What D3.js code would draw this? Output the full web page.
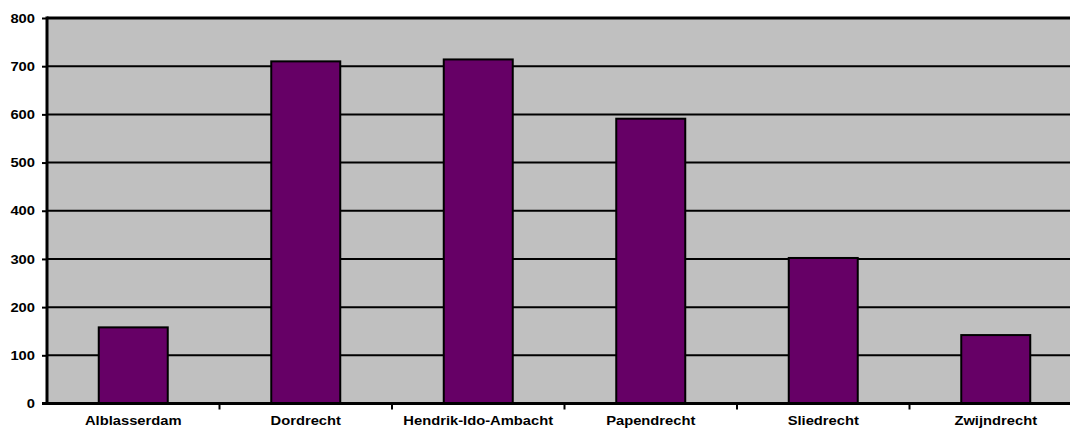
<!DOCTYPE html>
<html><head><meta charset="utf-8">
<script src="https://cdn.jsdelivr.net/npm/d3@7"></script>
<style>body{margin:0;background:#fff}svg{display:block}text{font-family:"Liberation Sans",Arial,sans-serif;font-weight:bold;fill:#000}</style>
</head><body><svg id="c" width="1070" height="428"></svg>
<script>
const categories = ["Alblasserdam","Dordrecht","Hendrik-Ido-Ambacht","Papendrecht","Sliedrecht","Zwijndrecht"];
const values = [158, 710, 714, 591, 302, 142];
const yTicks = [0,100,200,300,400,500,600,700,800];

const svg = d3.select("#c");
const mLeft = 47, mTop = 18, mBottom = 403.5, mRight = 1082;
const sx = 1.17, fs = 12.6;

const x = d3.scaleBand().domain(categories).range([mLeft, mRight]).paddingInner(0).paddingOuter(0);
const y = d3.scaleLinear().domain([0, 800]).range([mBottom, mTop]);

svg.append("rect").attr("x", mLeft).attr("y", mTop).attr("width", mRight-mLeft).attr("height", mBottom-mTop).attr("fill", "#c0c0c0");

svg.append("g").selectAll("line").data(yTicks.filter(d=>d>0)).join("line")
  .attr("x1", mLeft).attr("x2", mRight).attr("y1", d=>y(d)).attr("y2", d=>y(d))
  .attr("stroke", "#000").attr("stroke-width", d=>d===800?3:2);

const bw = x.bandwidth()*0.4;
svg.append("g").selectAll("rect").data(categories).join("rect")
  .attr("x", (d)=>x(d)+x.bandwidth()/2-bw/2)
  .attr("y", (d,i)=>y(values[i]))
  .attr("width", bw)
  .attr("height", (d,i)=>mBottom-y(values[i]))
  .attr("fill", "#660066").attr("stroke", "#000").attr("stroke-width", 2);

const ya = svg.append("g").attr("transform", `translate(${mLeft},0)`)
  .call(d3.axisLeft(y).tickValues(yTicks).tickSize(5).tickPadding(0).tickFormat(d3.format("d")));
ya.select(".domain").remove();
ya.selectAll(".tick line").attr("stroke", "#000").attr("stroke-width", 2);
ya.selectAll(".tick text").attr("x", 0).attr("dy", null).attr("dominant-baseline", "central")
  .attr("font-size", fs).attr("transform", `translate(-12,0) scale(${sx},1)`).attr("text-anchor","end");
svg.append("line").attr("x1", mLeft).attr("x2", mLeft).attr("y1", mTop-1.5).attr("y2", mBottom+1.5).attr("stroke","#000").attr("stroke-width",3);

const xa = svg.append("g").attr("transform", `translate(0,${mBottom})`)
  .call(d3.axisBottom(x).tickSize(0).tickPadding(0));
xa.select(".domain").remove();
xa.selectAll(".tick text").attr("y", 0).attr("dy", null)
  .attr("font-size", fs).attr("transform", `translate(0,21.5) scale(${sx},1)`);
svg.append("g").selectAll("line").data(categories.slice(1)).join("line")
  .attr("x1", d=>x(d)).attr("x2", d=>x(d)).attr("y1", mBottom).attr("y2", mBottom+6)
  .attr("stroke","#000").attr("stroke-width",2);
svg.append("line").attr("x1", mLeft-5).attr("x2", mRight).attr("y1", mBottom).attr("y2", mBottom).attr("stroke","#000").attr("stroke-width",3);
</script></body></html>
